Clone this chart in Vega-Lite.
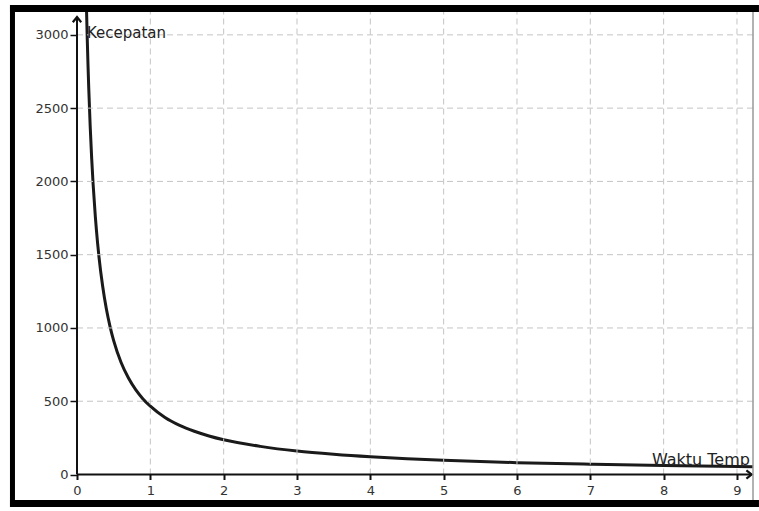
{
  "$schema": "https://vega.github.io/schema/vega-lite/v6.json",
  "width": 738,
  "height": 488,
  "autosize": {"type": "none"},
  "padding": {"left": 15, "top": 12, "right": 6, "bottom": 11},
  "background": "white",
  "config": {"view": {"stroke": null}, "font": "DejaVu Sans"},
  "datasets": {
    "curve": [
      {"x": 0.12, "y": 3393}, {"x": 0.13, "y": 3167}, {"x": 0.14, "y": 2969}, {"x": 0.15, "y": 2794},
      {"x": 0.16, "y": 2639}, {"x": 0.18, "y": 2375}, {"x": 0.2, "y": 2159}, {"x": 0.22, "y": 1979},
      {"x": 0.25, "y": 1759}, {"x": 0.28, "y": 1583}, {"x": 0.3, "y": 1484}, {"x": 0.35, "y": 1284},
      {"x": 0.4, "y": 1131}, {"x": 0.45, "y": 1011}, {"x": 0.5, "y": 913}, {"x": 0.6, "y": 766},
      {"x": 0.7, "y": 660}, {"x": 0.8, "y": 579}, {"x": 0.9, "y": 516}, {"x": 1.0, "y": 466},
      {"x": 1.2, "y": 389}, {"x": 1.4, "y": 335}, {"x": 1.6, "y": 295}, {"x": 1.8, "y": 263},
      {"x": 2.0, "y": 237}, {"x": 2.5, "y": 192}, {"x": 3.0, "y": 160}, {"x": 3.5, "y": 138},
      {"x": 4.0, "y": 121}, {"x": 4.5, "y": 108}, {"x": 5.0, "y": 97}, {"x": 6.0, "y": 81},
      {"x": 7.0, "y": 70}, {"x": 8.0, "y": 61}, {"x": 9.0, "y": 54}, {"x": 9.3, "y": 52}
    ],
    "xgrid": [{"x": 1}, {"x": 2}, {"x": 3}, {"x": 4}, {"x": 5}, {"x": 6}, {"x": 7}, {"x": 8}, {"x": 9}],
    "ygrid": [{"y": 500}, {"y": 1000}, {"y": 1500}, {"y": 2000}, {"y": 2500}, {"y": 3000}],
    "one": [{"k": 1}]
  },
  "layer": [
    {
      "data": {"name": "curve"},
      "mark": {"type": "line", "color": "#1a1a1a", "strokeWidth": 3, "interpolate": "monotone", "clip": true},
      "encoding": {
        "x": {
          "field": "x", "type": "quantitative",
          "scale": {"domain": [-0.8455, 9.2186], "nice": false, "zero": false},
          "axis": {
            "values": [0, 1, 2, 3, 4, 5, 6, 7, 8, 9], "format": "d", "offset": -25.5,
            "domain": false, "grid": false, "tickSize": 5, "tickWidth": 2, "tickColor": "#111",
            "labelFontSize": 13, "labelColor": "#333", "labelPadding": 5, "labelFont": "DejaVu Sans", "title": null
          }
        },
        "y": {
          "field": "y", "type": "quantitative",
          "scale": {"domain": [-174, 3156], "nice": false, "zero": false},
          "axis": {
            "values": [0, 500, 1000, 1500, 2000, 2500, 3000], "format": "d", "offset": -62,
            "domain": false, "grid": false, "tickSize": 7, "tickWidth": 1.5, "tickColor": "#111",
            "labelFontSize": 13, "labelColor": "#333", "labelPadding": 2, "labelFont": "DejaVu Sans", "title": null
          }
        }
      }
    },
    {
      "data": {"name": "xgrid"},
      "mark": {"type": "rule", "color": "#c4c4c4", "strokeWidth": 1, "strokeDash": [6, 4]},
      "encoding": {
        "x": {"field": "x", "type": "quantitative", "scale": {"domain": [-0.8455, 9.2186], "nice": false, "zero": false}},
        "y": {"datum": 0, "type": "quantitative", "scale": {"domain": [-174, 3156], "nice": false, "zero": false}},
        "y2": {"datum": 3156}
      }
    },
    {
      "data": {"name": "ygrid"},
      "mark": {"type": "rule", "color": "#c4c4c4", "strokeWidth": 1, "strokeDash": [6, 4]},
      "encoding": {
        "y": {"field": "y", "type": "quantitative", "scale": {"domain": [-174, 3156], "nice": false, "zero": false}},
        "x": {"datum": 0, "type": "quantitative", "scale": {"domain": [-0.8455, 9.2186], "nice": false, "zero": false}},
        "x2": {"datum": 9.2186}
      }
    },
    {
      "data": {"name": "one"},
      "mark": {"type": "rule", "color": "#111", "strokeWidth": 2},
      "encoding": {
        "x": {"datum": 0, "type": "quantitative", "scale": {"domain": [-0.8455, 9.2186], "nice": false, "zero": false}},
        "y": {"datum": 0, "type": "quantitative", "scale": {"domain": [-174, 3156], "nice": false, "zero": false}},
        "y2": {"datum": 3122}
      }
    },
    {
      "data": {"name": "one"},
      "mark": {"type": "rule", "color": "#111", "strokeWidth": 2},
      "encoding": {
        "x": {"datum": 0, "type": "quantitative", "scale": {"domain": [-0.8455, 9.2186], "nice": false, "zero": false}},
        "x2": {"datum": 9.2},
        "y": {"datum": 0, "type": "quantitative", "scale": {"domain": [-174, 3156], "nice": false, "zero": false}}
      }
    },
    {
      "data": {"name": "one"},
      "mark": {"type": "point", "shape": "M-0.8,1 L0,0 L0.8,1", "size": 110, "filled": false, "stroke": "#111", "strokeWidth": 2.2, "opacity": 1},
      "encoding": {
        "x": {"datum": 0, "type": "quantitative", "scale": {"domain": [-0.8455, 9.2186], "nice": false, "zero": false}},
        "y": {"datum": 3122, "type": "quantitative", "scale": {"domain": [-174, 3156], "nice": false, "zero": false}}
      }
    },
    {
      "data": {"name": "one"},
      "mark": {"type": "point", "shape": "M-1,-0.8 L0,0 L-1,0.8", "size": 110, "filled": false, "stroke": "#111", "strokeWidth": 2.2, "opacity": 1},
      "encoding": {
        "x": {"datum": 9.2, "type": "quantitative", "scale": {"domain": [-0.8455, 9.2186], "nice": false, "zero": false}},
        "y": {"datum": 0, "type": "quantitative", "scale": {"domain": [-174, 3156], "nice": false, "zero": false}}
      }
    },
    {
      "data": {"name": "one"},
      "mark": {"type": "text", "align": "left", "baseline": "alphabetic", "fontSize": 15, "font": "DejaVu Sans", "color": "#222"},
      "encoding": {
        "x": {"datum": 0.136, "type": "quantitative", "scale": {"domain": [-0.8455, 9.2186], "nice": false, "zero": false}},
        "y": {"datum": 2979, "type": "quantitative", "scale": {"domain": [-174, 3156], "nice": false, "zero": false}},
        "text": {"value": "Kecepatan"}
      }
    },
    {
      "data": {"name": "one"},
      "mark": {"type": "text", "align": "left", "baseline": "alphabetic", "fontSize": 16, "font": "DejaVu Sans", "color": "#222"},
      "encoding": {
        "x": {"datum": 7.84, "type": "quantitative", "scale": {"domain": [-0.8455, 9.2186], "nice": false, "zero": false}},
        "y": {"datum": 65, "type": "quantitative", "scale": {"domain": [-174, 3156], "nice": false, "zero": false}},
        "text": {"value": "Waktu Temp"}
      }
    },
    {
      "data": {"name": "one"},
      "mark": {"type": "rule", "color": "#999", "strokeWidth": 1.5},
      "encoding": {
        "x": {"datum": 9.2186, "type": "quantitative", "scale": {"domain": [-0.8455, 9.2186], "nice": false, "zero": false}},
        "y": {"datum": -174, "type": "quantitative", "scale": {"domain": [-174, 3156], "nice": false, "zero": false}},
        "y2": {"datum": 3156}
      }
    },
    {
      "data": {"name": "one"},
      "mark": {"type": "rule", "color": "#000", "strokeWidth": 7},
      "encoding": {
        "x": {"datum": -0.914, "type": "quantitative", "scale": {"domain": [-0.8455, 9.2186], "nice": false, "zero": false}},
        "x2": {"datum": 9.3},
        "y": {"datum": 3180, "type": "quantitative", "scale": {"domain": [-174, 3156], "nice": false, "zero": false}}
      }
    },
    {
      "data": {"name": "one"},
      "mark": {"type": "rule", "color": "#000", "strokeWidth": 7},
      "encoding": {
        "x": {"datum": -0.914, "type": "quantitative", "scale": {"domain": [-0.8455, 9.2186], "nice": false, "zero": false}},
        "x2": {"datum": 9.3},
        "y": {"datum": -198, "type": "quantitative", "scale": {"domain": [-174, 3156], "nice": false, "zero": false}}
      }
    },
    {
      "data": {"name": "one"},
      "mark": {"type": "rule", "color": "#000", "strokeWidth": 5},
      "encoding": {
        "x": {"datum": -0.88, "type": "quantitative", "scale": {"domain": [-0.8455, 9.2186], "nice": false, "zero": false}},
        "y": {"datum": -222, "type": "quantitative", "scale": {"domain": [-174, 3156], "nice": false, "zero": false}},
        "y2": {"datum": 3204}
      }
    }
  ]
}
